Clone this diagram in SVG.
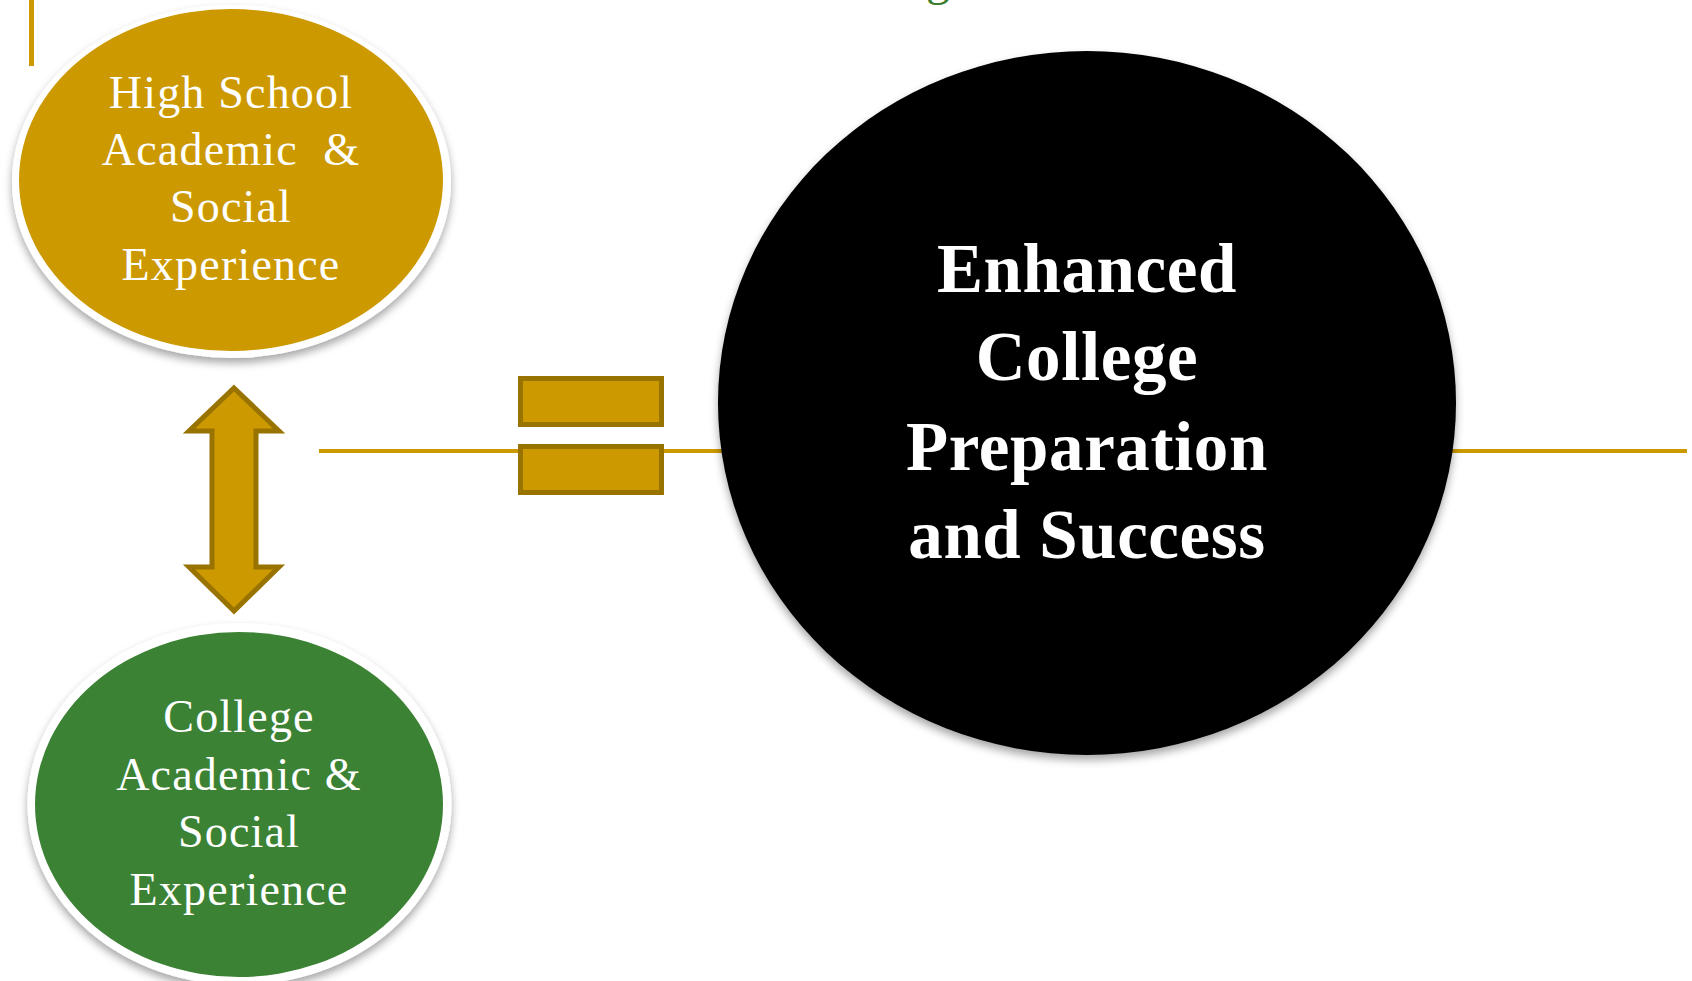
<svg xmlns="http://www.w3.org/2000/svg" width="1692" height="981" viewBox="0 0 1692 981">
  <defs>
    <filter id="shadow" x="-10%" y="-10%" width="120%" height="125%">
      <feDropShadow dx="0" dy="5" stdDeviation="4" flood-color="#000" flood-opacity="0.35"/>
    </filter>
    <style>
      .gold { fill: #CC9900; stroke: #997300; stroke-width: 5; }
      .rule { stroke: #CC9900; stroke-width: 4; fill: none; }
      .lbl { font-family: "Liberation Serif", "Times New Roman", serif; fill: #FFFFFF; text-anchor: middle; }
      .small { font-size: 46px; letter-spacing: 1.2px; }
      .big { font-size: 69px; font-weight: bold; letter-spacing: 0.6px; }
    </style>
  </defs>
  <rect width="1692" height="981" fill="#FFFFFF"/>

  <!-- decorative pieces -->
  <rect x="29" y="0" width="5" height="66" fill="#CC9900"/>
  <text x="926" y="-5" font-family="Liberation Serif, serif" font-size="48" fill="#3B7F2C">g</text>

  <g id="connectors">
    <line class="rule" x1="319" y1="451" x2="1687" y2="451"/>
    <polygon id="double-arrow" class="gold" points="234,388 279,431 256,431 256,567 279,567 234,611 189,567 212,567 212,431 189,431"/>
    <g id="equals">
      <rect class="gold" x="520.5" y="378.5" width="141" height="46"/>
      <rect class="gold" x="520.5" y="446.5" width="141" height="46"/>
    </g>
  </g>

  <g id="node-highschool">
    <ellipse cx="231.5" cy="181.5" rx="219.5" ry="176.5" fill="#FFFFFF" filter="url(#shadow)"/>
    <ellipse cx="231" cy="180" rx="212" ry="171" fill="#CC9900"/>
    <text class="lbl small" x="231" y="108">High School</text>
    <text class="lbl small" x="231" y="165" xml:space="preserve">Academic  &amp;</text>
    <text class="lbl small" x="231" y="222">Social</text>
    <text class="lbl small" x="231" y="280">Experience</text>
  </g>

  <g id="node-college">
    <ellipse cx="239.5" cy="804" rx="212" ry="181" fill="#FFFFFF" filter="url(#shadow)"/>
    <ellipse cx="239" cy="804.5" rx="204" ry="172.5" fill="#3C8234"/>
    <text class="lbl small" x="239" y="732">College</text>
    <text class="lbl small" x="239" y="790">Academic &amp;</text>
    <text class="lbl small" x="239" y="847">Social</text>
    <text class="lbl small" x="239" y="905">Experience</text>
  </g>

  <g id="node-outcome">
    <ellipse cx="1087" cy="403" rx="369" ry="352" fill="#000000" filter="url(#shadow)"/>
    <text class="lbl big" x="1087" y="292">Enhanced</text>
    <text class="lbl big" x="1087" y="380">College</text>
    <text class="lbl big" x="1087" y="470">Preparation</text>
    <text class="lbl big" x="1087" y="558">and Success</text>
  </g>
</svg>
